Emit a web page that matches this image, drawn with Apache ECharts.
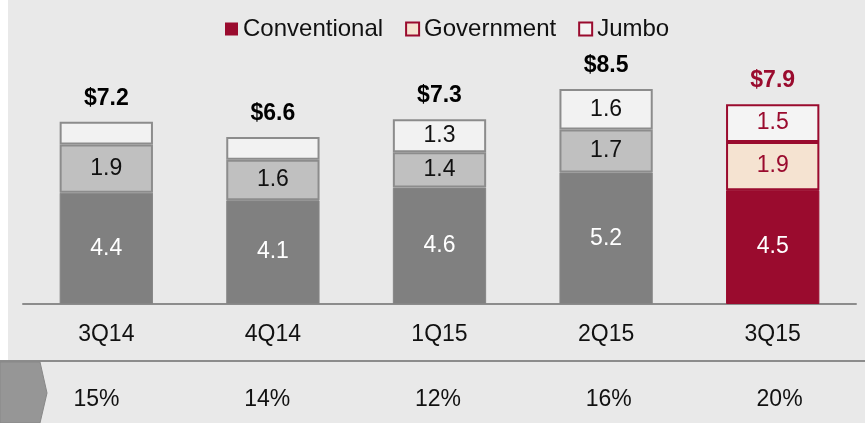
<!DOCTYPE html>
<html>
<head>
<meta charset="utf-8">
<script src="https://cdn.jsdelivr.net/npm/echarts@6/dist/echarts.min.js"></script>
<style>
html,body{margin:0;padding:0;background:#e9e9e9;}
#chart{width:865px;height:423px;}
</style>
</head>
<body>
<div id="chart"></div>
<script>
const categories = ['3Q14', '4Q14', '1Q15', '2Q15', '3Q15'];
const conventional = [4.4, 4.1, 4.6, 5.2, 4.5];
const government = [1.9, 1.6, 1.4, 1.7, 1.9];
const jumbo = [0.9, 0.9, 1.3, 1.6, 1.5];
const totals = [7.2, 6.6, 7.3, 8.5, 7.9];
const shares = ['15%', '14%', '12%', '16%', '20%'];

const CRIMSON = '#9a0b2e';
const BEIGE = '#f5e3d1';
const FONT = '"Liberation Sans", Arial, sans-serif';
const FS = 23;
const last = categories.length - 1;

function build(values, normal, hi) {
  return values.map((v, i) => {
    const s = i === last ? hi : normal;
    return { value: v, itemStyle: s.item, label: s.label };
  });
}

const chart = echarts.init(document.getElementById('chart'));
chart.setOption({
  backgroundColor: '#e9e9e9',
  animation: false,
  textStyle: { fontFamily: FONT },
  graphic: [
    { type: 'rect', shape: { x: 0, y: 0, width: 8, height: 360 }, style: { fill: '#ffffff' }, silent: true },
    { type: 'line', shape: { x1: 0, y1: 361, x2: 865, y2: 361 }, style: { stroke: '#8c8c8c', lineWidth: 2 }, silent: true },
    { type: 'polygon', shape: { points: [[0, 362], [40, 362], [47, 393], [40, 423], [0, 423]] }, style: { fill: '#969696', stroke: '#888888', lineWidth: 1 }, silent: true }
  ],
  legend: {
    left: 220,
    top: 12,
    icon: 'rect',
    itemWidth: 13,
    itemHeight: 13,
    itemGap: 22,
    textStyle: { fontSize: 24, color: '#111', fontFamily: FONT },
    data: [
      { name: 'Conventional', itemStyle: { color: CRIMSON, borderWidth: 0 } },
      { name: 'Government', itemStyle: { color: BEIGE, borderColor: CRIMSON, borderWidth: 2 } },
      { name: 'Jumbo', itemStyle: { color: '#f4f4f4', borderColor: CRIMSON, borderWidth: 2 } }
    ]
  },
  grid: [
    { left: 23, right: 9, top: 51, bottom: 119 },
    { left: 11, width: 857, top: 370, bottom: 35 }
  ],
  xAxis: [
    {
      type: 'category', gridIndex: 0, data: categories,
      axisLine: { lineStyle: { color: '#8c8c8c', width: 2 } },
      axisTick: { show: false },
      axisLabel: { fontSize: FS, color: '#111', margin: 19, fontFamily: FONT }
    },
    {
      type: 'category', gridIndex: 1, data: shares,
      axisLine: { show: false }, axisTick: { show: false },
      axisLabel: { fontSize: FS, color: '#111', margin: 0, fontFamily: FONT }
    }
  ],
  yAxis: [
    { type: 'value', gridIndex: 0, min: 0, max: 10, show: false, splitLine: { show: false } },
    { type: 'value', gridIndex: 1, show: false, splitLine: { show: false } }
  ],
  series: [
    {
      name: 'Conventional', type: 'bar', stack: 'a', barWidth: '56%',
      data: build(conventional,
        { item: { color: '#808080', borderColor: '#858585', borderWidth: 1 }, label: { color: '#ffffff' } },
        { item: { color: CRIMSON, borderColor: CRIMSON, borderWidth: 1 }, label: { color: '#ffffff' } }),
      label: { show: true, position: 'inside', fontSize: FS, fontFamily: FONT, formatter: p => p.value.toFixed(1) }
    },
    {
      name: 'Government', type: 'bar', stack: 'a',
      data: build(government,
        { item: { color: '#c0c0c0', borderColor: '#8c8c8c', borderWidth: 2 }, label: { color: '#111111' } },
        { item: { color: BEIGE, borderColor: CRIMSON, borderWidth: 2 }, label: { color: CRIMSON } }),
      label: { show: true, position: 'inside', fontSize: FS, fontFamily: FONT, formatter: p => p.value.toFixed(1) }
    },
    {
      name: 'Jumbo', type: 'bar', stack: 'a',
      data: jumbo.map((v, i) => ({
        value: v,
        itemStyle: i === last ? { color: '#f4f4f4', borderColor: CRIMSON, borderWidth: 2 }
                              : { color: '#f2f2f2', borderColor: '#8c8c8c', borderWidth: 2 },
        label: { show: v >= 1, color: i === last ? CRIMSON : '#111111' }
      })),
      label: { show: true, position: 'inside', fontSize: FS, fontFamily: FONT, formatter: p => p.value.toFixed(1) }
    },
    {
      name: 'Total', type: 'scatter', symbolSize: 0,
      itemStyle: { opacity: 1 },
      data: totals.map((v, i) => ({
        value: v,
        label: { color: i === last ? CRIMSON : '#000000' }
      })),
      label: { show: true, position: 'top', distance: 12, fontSize: FS, fontWeight: 'bold', fontFamily: FONT,
               opacity: 1, formatter: p => '$' + p.value.toFixed(1) },
      silent: true
    }
  ]
});
</script>
</body>
</html>
